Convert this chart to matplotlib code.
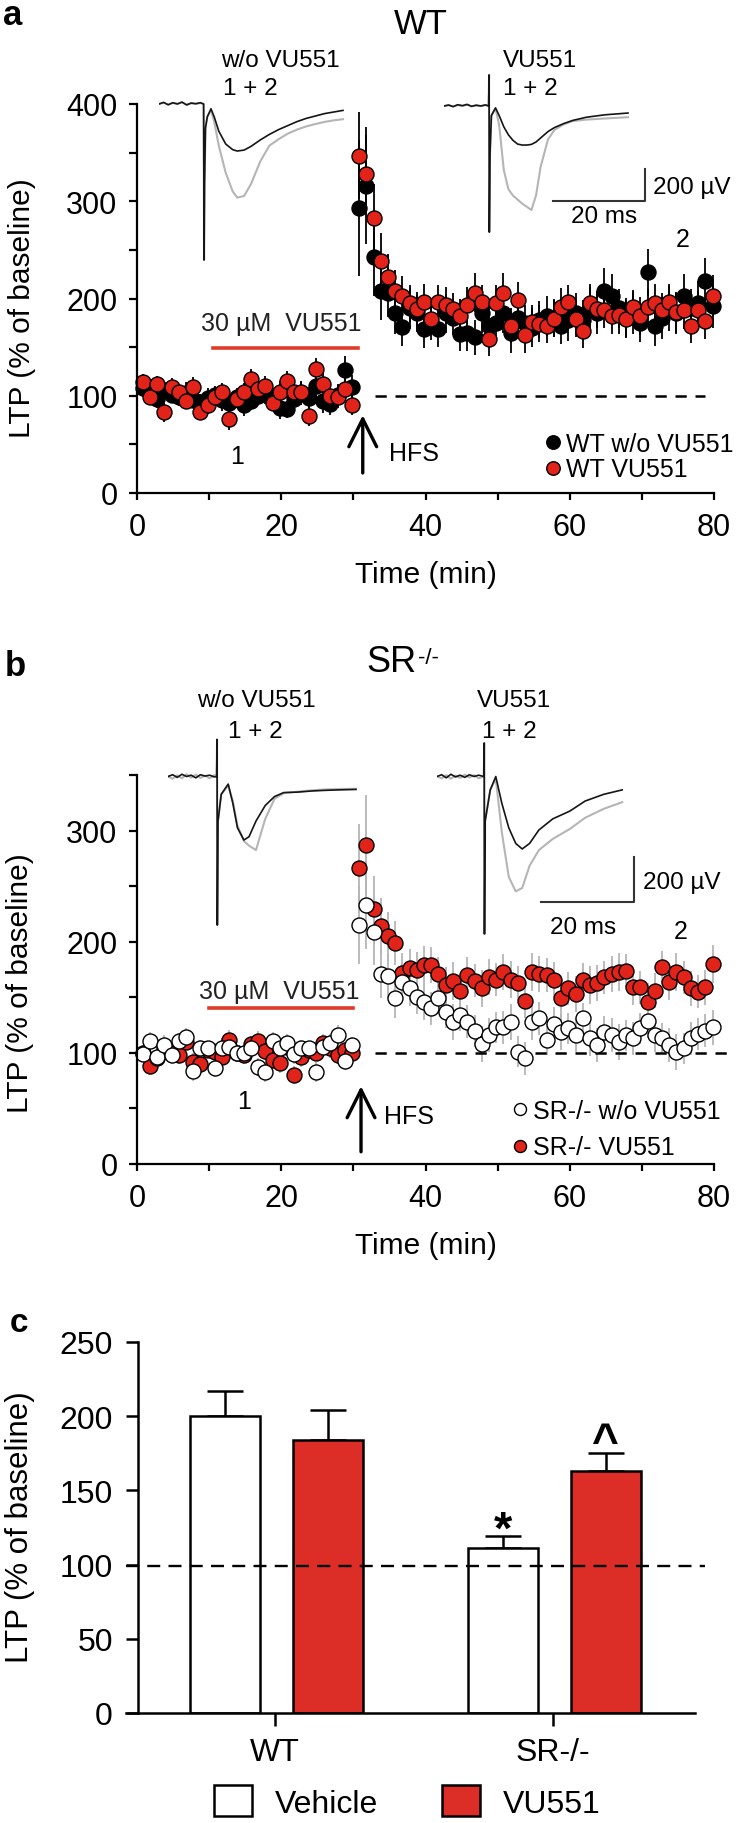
import numpy as np
import matplotlib
matplotlib.use('Agg')
import matplotlib.pyplot as plt
from matplotlib.patches import Patch

plt.rcParams['font.family'] = ['Liberation Sans', 'DejaVu Sans']

# ---- time course data (% of baseline), one point per minute ----
time_min = np.arange(0.8, 80, 1.0)

wt_ctrl = [108, 104, 97, 106, 101, 99, 103, 96, 94, 98,
           101, 96, 93, 99, 90, 95, 100, 104, 98, 87,
           86, 97, 102, 98, 110, 95, 92, 101, 126, 109,
           293, 316, 243, 208, 206, 185, 171, 190, 185, 169,
           175, 169, 185, 180, 163, 165, 160, 185, 172, 175,
           185, 165, 180, 175, 170, 178, 182, 180, 172, 178,
           185, 178, 190, 185, 208, 203, 190, 180, 185, 175,
           227, 172, 180, 190, 185, 203, 190, 195, 218, 192]
wt_ctrl_err = [9, 8, 10, 9, 8, 10, 11, 9, 8, 10,
               9, 12, 10, 9, 11, 10, 9, 12, 10, 11,
               9, 10, 12, 11, 10, 13, 12, 11, 15, 12,
               70, 60, 40, 30, 25, 22, 20, 21, 19, 20,
               18, 19, 20, 18, 17, 19, 18, 20, 19, 18,
               20, 21, 19, 18, 20, 19, 21, 20, 19, 22,
               21, 20, 22, 21, 23, 22, 20, 21, 22, 20,
               24, 21, 22, 23, 21, 22, 20, 23, 24, 22]

wt_vu = [114, 99, 112, 83, 109, 104, 95, 109, 83, 90,
         99, 104, 76, 97, 104, 117, 107, 110, 93, 104,
         115, 104, 104, 79, 127, 112, 100, 99, 107, 90,
         347, 328, 283, 239, 222, 208, 203, 195, 189, 196,
         179, 196, 193, 189, 182, 193, 206, 196, 158, 195,
         206, 172, 198, 162, 176, 174, 172, 179, 191, 196,
         179, 167, 195, 189, 188, 182, 183, 179, 191, 182,
         191, 195, 188, 196, 186, 188, 172, 188, 177, 203]
wt_vu_err = [8, 9, 8, 10, 9, 8, 9, 10, 8, 9,
             10, 9, 11, 10, 9, 10, 12, 10, 9, 11,
             10, 12, 11, 10, 12, 11, 10, 12, 11, 10,
             45, 40, 35, 28, 24, 21, 20, 19, 18, 19,
             17, 18, 19, 17, 18, 19, 20, 18, 17, 19,
             20, 18, 19, 18, 17, 19, 18, 19, 20, 18,
             19, 18, 20, 19, 18, 19, 20, 19, 18, 20,
             19, 20, 18, 19, 21, 19, 18, 20, 19, 21]

sr_ctrl = [99, 111, 96, 107, 98, 111, 114, 84, 104, 104,
           86, 104, 105, 100, 100, 104, 87, 83, 111, 104,
           109, 99, 104, 104, 83, 105, 109, 116, 93, 107,
           215, 233, 209, 171, 169, 149, 164, 158, 150, 146,
           140, 149, 137, 128, 134, 128, 120, 108, 116, 123,
           123, 128, 101, 95, 128, 131, 112, 126, 119, 122,
           116, 131, 113, 107, 119, 116, 110, 116, 113, 122,
           129, 116, 113, 107, 101, 104, 113, 117, 120, 123]
sr_ctrl_err = [7, 8, 7, 9, 8, 7, 8, 9, 8, 7,
               8, 9, 8, 8, 7, 9, 8, 9, 8, 7,
               8, 9, 8, 7, 9, 8, 8, 9, 8, 7,
               35, 40, 30, 22, 20, 18, 17, 16, 15, 16,
               15, 14, 15, 16, 14, 15, 14, 16, 15, 14,
               15, 16, 14, 15, 16, 15, 14, 15, 16, 14,
               15, 14, 16, 15, 14, 15, 16, 14, 15, 14,
               16, 15, 14, 15, 16, 14, 15, 14, 15, 16]

sr_vu = [100, 88, 95, 104, 100, 98, 110, 92, 90, 103,
         101, 96, 112, 100, 98, 108, 111, 102, 94, 91,
         105, 80, 96, 103, 100, 109, 104, 98, 103, 100,
         266, 287, 229, 214, 205, 199, 172, 176, 175, 179,
         179, 171, 161, 165, 156, 170, 165, 158, 168, 166,
         173, 166, 163, 147, 173, 171, 170, 166, 149, 158,
         153, 166, 161, 163, 168, 171, 173, 174, 159, 159,
         146, 156, 177, 164, 173, 168, 158, 155, 159, 180]
sr_vu_err = [7, 8, 8, 7, 9, 8, 7, 8, 9, 8,
             8, 7, 9, 8, 8, 7, 9, 8, 8, 9,
             7, 8, 9, 8, 7, 8, 9, 8, 7, 8,
             40, 45, 30, 25, 22, 20, 18, 17, 16, 17,
             16, 15, 16, 17, 15, 16, 15, 17, 16, 15,
             16, 17, 15, 16, 17, 16, 15, 16, 17, 15,
             16, 15, 17, 16, 15, 16, 17, 15, 16, 15,
             17, 16, 15, 16, 17, 15, 16, 15, 16, 17]

# ---- example fEPSP traces (ms, uV), 1 = baseline (black), 2 = after HFS (gray) ----
ta1 = [0, 1, 2, 3, 4, 5, 6, 7, 8, 9, 9.7, 9.8, 9.9, 10.1, 10.5, 11.3, 12, 13, 14.5, 16,
       17, 18.5, 20, 22, 24, 26, 28, 30, 32, 34, 36, 38, 40]
a1_black = [0, 10, -5, 8, 0, 12, -6, 6, 2, 8, 0, -975, -500, -150, -80, -30, -80, -170, -250, -285,
            -294, -288, -265, -225, -190, -160, -135, -110, -90, -75, -60, -50, -40]
a1_gray = [0, 8, -3, 6, 2, 10, -4, 4, 0, 6, 0, -975, -500, -150, -80, -40, -110, -260, -430, -545,
           -585, -575, -500, -360, -260, -220, -185, -160, -140, -125, -112, -102, -95]

ta2 = [0, 1, 2, 3, 4, 5, 6, 7, 8, 9, 9.7, 9.8, 9.85, 10.0, 10.3, 11.2, 12, 13, 14, 15,
       16, 17, 18, 19, 20, 21, 22.6, 24, 26, 28, 31, 35, 40]
a2_black = [0, 6, -4, 8, 2, 10, -2, 5, 0, 7, 0, 194, -788, -300, -60, -12, -60, -130, -180, -215,
            -238, -244, -244, -240, -225, -200, -160, -135, -110, -90, -70, -55, -44]
a2_gray = [0, 5, -3, 6, 0, 8, -2, 4, 0, 5, 0, 194, -788, -300, -60, -15, -120, -400, -520, -560,
           -585, -610, -630, -650, -560, -380, -210, -150, -115, -94, -85, -78, -70]

tb1 = [0, 1, 2, 3, 4, 5, 6, 7, 8, 9, 10, 10.5, 10.6, 10.65, 10.8, 11.5, 13, 14, 15, 16.4,
       17.5, 19, 21, 23, 25, 28, 31, 34, 37, 40.6]
b1_black = [0, 8, -4, 10, 0, 6, -6, 8, 2, 6, -2, 0, 166, -666, -200, -80, -34, -120, -230, -285,
            -270, -200, -130, -90, -72, -70, -65, -62, -60, -58]
b1_gray = [0, -10, 5, -8, 10, -5, 8, -6, 4, -8, 6, 0, 166, -666, -200, -80, -40, -110, -220, -290,
           -310, -330, -190, -100, -75, -68, -62, -58, -56, -55]

tb2 = [0, 1, 2, 3, 4, 5, 6, 7, 8, 9, 10.1, 10.2, 10.25, 10.4, 11.5, 12.7, 14, 15.5, 17, 18.4,
       20, 22, 25, 28.7, 32, 36, 40]
b2_black = [0, 8, -6, 10, -2, 6, -4, 8, 0, 6, 0, 150, -706, -200, -60, 0, -120, -230, -300, -325,
            -300, -240, -190, -155, -110, -80, -60]
b2_gray = [0, -8, 6, -10, 4, -6, 8, -4, 6, -8, 0, 150, -706, -200, -60, -10, -250, -450, -515, -500,
           -400, -330, -280, -235, -185, -145, -115]

# ---- summary bars ----
groups = ['WT', 'SR-/-']
vehicle_mean = [200, 111]
vehicle_sem = [17, 8]
vu551_mean = [184, 163]
vu551_sem = [20, 12]

RED = '#e2231a'
BAR_RED = '#dc2e26'
GRAY = '#b5b5b5'
W, H = 744, 1824


def rect(l, t, r, b):
    return [l / W, 1 - b / H, (r - l) / W, (b - t) / H]


def px(x, y):
    return x / W, 1 - y / H


def trace_axes(fig, x0, y0, px_ms, px_uv, t_max=48, v_top=250, v_bot=-1000):
    top = y0 - v_top * px_uv
    bot = y0 - v_bot * px_uv
    ax = fig.add_axes(rect(x0, top, x0 + t_max * px_ms, bot))
    ax.set_xlim(0, t_max)
    ax.set_ylim(v_bot, v_top)
    ax.axis('off')
    return ax


def draw_trace(ax, t, black, gray):
    ax.plot(t, gray, color=GRAY, lw=1.5)
    ax.plot(t, black, color='#151515', lw=1.2)


def scale_bar(ax, x_end, y_end):
    ax.plot([x_end - 20, x_end, x_end], [y_end, y_end, y_end + 200], color='#333333', lw=1.5,
            clip_on=False)


def style_time_axis(ax, ytop):
    ax.set_xlim(0, 80)
    ax.set_ylim(0, ytop)
    for s in ['top', 'right']:
        ax.spines[s].set_visible(False)
    for s in ['left', 'bottom']:
        ax.spines[s].set_linewidth(1.6)
    ax.set_xticks([0, 20, 40, 60, 80])
    ax.set_xticks([10, 30, 50, 70], minor=True)
    ax.set_yticks(range(0, ytop + 1, 100))
    ax.set_yticks(range(50, ytop + 1, 100), minor=True)
    ax.tick_params(which='both', direction='out', width=1.6, labelsize=22)
    ax.tick_params(axis='y', which='both', length=6, pad=8)
    ax.tick_params(axis='x', which='both', length=5, pad=9)
    ax.set_xlabel('Time (min)', fontsize=21.5, labelpad=13)
    ax.set_ylabel('LTP (% of baseline)', fontsize=21.5, va='center')


def series(ax, y, err, face, ecol):
    cont = ax.errorbar(time_min, y, yerr=err, fmt='o', ms=10.8, mfc=face, mec='black', mew=1.0,
                       ecolor=ecol, elinewidth=1.3, capsize=0, clip_on=False)
    return cont[0]


def hfs_arrow(ax, x, y0, y1):
    ax.annotate('', xy=(x, y1), xytext=(x, y0),
                arrowprops=dict(arrowstyle='->,head_length=1.0,head_width=0.5', lw=2.4,
                                color='black', mutation_scale=20, shrinkA=0, shrinkB=0))


fig = plt.figure(figsize=(7.44, 18.24), dpi=100)

# ================= panel a =================
ax_a = fig.add_axes(rect(137, 105, 714, 494))
style_time_axis(ax_a, 400)
ax_a.yaxis.set_label_coords(-0.199, 0.478)
h1 = series(ax_a, wt_ctrl, wt_ctrl_err, 'black', 'black')
h2 = series(ax_a, wt_vu, wt_vu_err, RED, 'black')
ax_a.plot([33, 78.8], [100, 100], color='black', lw=1.8, dashes=(4.5, 3.5))
ax_a.plot([10.6, 30.7], [149, 149], color='#e03a2a', lw=2.6)
ax_a.text(20, 175, '30 µM  VU551', ha='center', va='center', fontsize=18, color='#222222')
ax_a.text(13.9, 38, '1', ha='center', va='center', fontsize=18)
ax_a.text(75.7, 261, '2', ha='center', va='center', fontsize=18)
ax_a.text(34.9, 41, 'HFS', ha='left', va='center', fontsize=18)
hfs_arrow(ax_a, 31.3, 20.6, 80)
ax_a.legend([h1, h2], ['WT w/o VU551', 'WT VU551'], loc='lower left',
            bbox_to_anchor=(0.711, 0.03), frameon=False, fontsize=18, numpoints=1,
            handlelength=0.5, handletextpad=0.25, labelspacing=0.05, borderpad=0,
            borderaxespad=0, markerscale=0.9)

tr = trace_axes(fig, 159, 105, 4.6, 0.16)
draw_trace(tr, ta1, a1_black, a1_gray)
tr = trace_axes(fig, 444, 107, 4.6, 0.16)
draw_trace(tr, ta2, a2_black, a2_gray)
scale_bar(tr, 43.7, -594)
tr.text(45.4, -506, '200 µV', ha='left', va='center', fontsize=17.5)
tr.text(34.8, -690, '20 ms', ha='center', va='center', fontsize=17.5)

fig.text(*px(221, 61), 'w/o VU551', ha='left', va='center', fontsize=17.5)
fig.text(*px(223, 89), '1 + 2', ha='left', va='center', fontsize=17.5)
fig.text(*px(503, 61), 'VU551', ha='left', va='center', fontsize=17.5)
fig.text(*px(503, 89), '1 + 2', ha='left', va='center', fontsize=17.5)
fig.text(*px(421, 25), 'WT', ha='center', va='center', fontsize=25)
fig.text(*px(3, 25), 'a', ha='left', va='baseline', fontsize=25, fontweight='bold')

# ================= panel b =================
ax_b = fig.add_axes(rect(137, 776, 714, 1165))
style_time_axis(ax_b, 350)
ax_b.yaxis.set_label_coords(-0.203, 0.468)
h3 = series(ax_b, sr_vu, sr_vu_err, RED, GRAY)
h4 = series(ax_b, sr_ctrl, sr_ctrl_err, 'white', GRAY)
ax_b.plot([33, 82.5], [100, 100], color='black', lw=1.8, dashes=(4.5, 3.5), clip_on=False)
ax_b.plot([10, 30], [140, 140], color='#e03a2a', lw=2.6)
ax_b.text(19.7, 156, '30 µM  VU551', ha='center', va='center', fontsize=18, color='#222222')
ax_b.text(14.8, 57, '1', ha='center', va='center', fontsize=18)
ax_b.text(75.4, 210, '2', ha='center', va='center', fontsize=18)
ax_b.text(34.2, 42.8, 'HFS', ha='left', va='center', fontsize=18)
hfs_arrow(ax_b, 31.06, 11, 70)
ax_b.legend([h4, h3], ['SR-/- w/o VU551', 'SR-/- VU551'], loc='lower left',
            bbox_to_anchor=(0.653, 0.012), frameon=False, fontsize=18, numpoints=1,
            handlelength=0.5, handletextpad=0.25, labelspacing=0.5, borderpad=0,
            borderaxespad=0, markerscale=0.8)

tr = trace_axes(fig, 168, 777.5, 4.63, 0.223)
draw_trace(tr, tb1, b1_black, b1_gray)
tr = trace_axes(fig, 437, 777.5, 4.63, 0.223)
draw_trace(tr, tb2, b2_black, b2_gray)
scale_bar(tr, 42.5, -563)
tr.text(44.5, -473, '200 µV', ha='left', va='center', fontsize=17.5)
tr.text(31.6, -675, '20 ms', ha='center', va='center', fontsize=17.5)

fig.text(*px(197, 701), 'w/o VU551', ha='left', va='center', fontsize=17.5)
fig.text(*px(228, 732), '1 + 2', ha='left', va='center', fontsize=17.5)
fig.text(*px(477, 701), 'VU551', ha='left', va='center', fontsize=17.5)
fig.text(*px(482, 732), '1 + 2', ha='left', va='center', fontsize=17.5)
fig.text(*px(366, 663), 'SR', ha='left', va='center', fontsize=26)
fig.text(*px(418, 658), '-/-', ha='left', va='center', fontsize=16)
fig.text(*px(5, 676), 'b', ha='left', va='baseline', fontsize=25, fontweight='bold')

# ================= panel c =================
ax_c = fig.add_axes(rect(126, 1343, 695, 1714))
x = np.arange(len(groups))
bw = 0.252
ax_c.bar(x - 0.18, vehicle_mean, bw, color='white', edgecolor='black', lw=1.8, zorder=2)
ax_c.bar(x + 0.19, vu551_mean, bw, color=BAR_RED, edgecolor='black', lw=1.8, zorder=2)
ax_c.errorbar(x - 0.18, vehicle_mean, yerr=[[0, 0], vehicle_sem], fmt='none', ecolor='black',
              elinewidth=1.8, capsize=13, capthick=1.8, zorder=1)
ax_c.errorbar(x + 0.19, vu551_mean, yerr=[[0, 0], vu551_sem], fmt='none', ecolor='black',
              elinewidth=1.8, capsize=13, capthick=1.8, zorder=1)
ax_c.plot([-0.536, 1.547], [99, 99], color='black', lw=1.7, dashes=(5.5, 3.5), clip_on=False,
          zorder=3)
ax_c.set_xlim(-0.536, 1.511)
ax_c.set_ylim(0, 250)
ax_c.set_yticks(range(0, 251, 50))
ax_c.set_xticks(x)
ax_c.set_xticklabels(groups)
for s in ['top', 'right']:
    ax_c.spines[s].set_visible(False)
for s in ['left', 'bottom']:
    ax_c.spines[s].set_linewidth(1.8)
ax_c.spines['left'].set_position(('axes', 0.021))
ax_c.tick_params(direction='out', width=1.8, length=9, labelsize=23)
ax_c.tick_params(axis='y', pad=9)
ax_c.tick_params(axis='x', pad=8)
ax_c.set_ylabel('LTP (% of baseline)', fontsize=22.5, va='center')
ax_c.yaxis.set_label_coords(-0.186, 0.504)
ax_c.text(1 - 0.18, 115, '*', ha='center', va='baseline', fontsize=34, fontweight='bold')
ax_c.text(1 + 0.19, 174, '^', ha='center', va='baseline', fontsize=33, fontweight='bold')
ax_c.legend([Patch(facecolor='white', edgecolor='black', lw=1.8),
             Patch(facecolor=BAR_RED, edgecolor='black', lw=1.8)], ['Vehicle', 'VU551'],
            loc='center', bbox_to_anchor=(0.494, -0.24), ncol=2, frameon=False, fontsize=23,
            handlelength=1.2, handleheight=1.1, handletextpad=0.7, columnspacing=2.0)
fig.text(*px(10, 1332), 'c', ha='left', va='baseline', fontsize=24, fontweight='bold')

fig.savefig('out.png', dpi=100)
